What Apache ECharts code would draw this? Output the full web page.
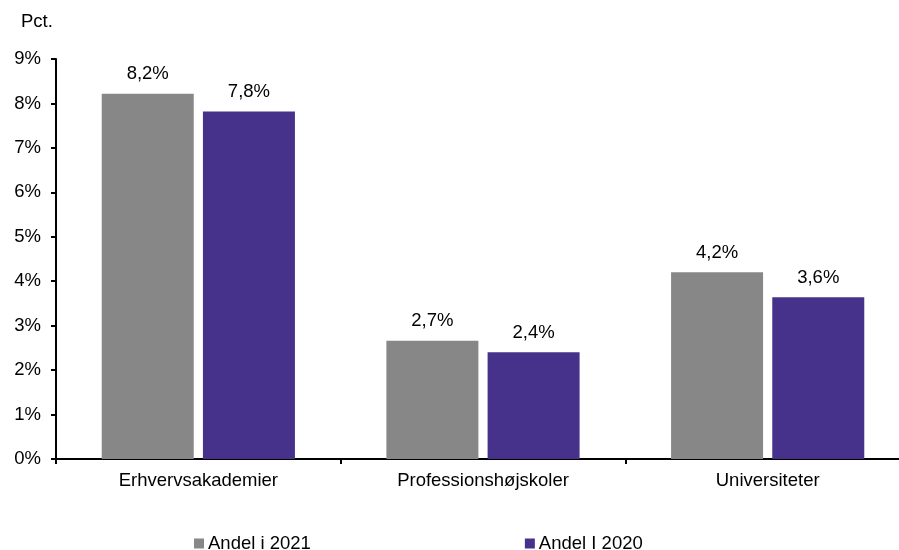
<!DOCTYPE html>
<html><head><meta charset="utf-8">
<script src="https://cdn.jsdelivr.net/npm/echarts@6/dist/echarts.min.js"></script>
<style>html,body{margin:0;padding:0;background:#fff}#c{width:899px;height:550px}</style>
</head><body><div id="c"></div>
<script>
const categories = ['Erhvervsakademier', 'Professionshøjskoler', 'Universiteter'];
const andel2021 = [8.22, 2.66, 4.2];
const andel2020 = [7.82, 2.4, 3.64];
const yTicks = [0, 1, 2, 3, 4, 5, 6, 7, 8, 9];
const seriesNames = ['Andel i 2021', 'Andel I 2020'];
const font = 'Liberation Sans, Arial, sans-serif';
const fs = 18.5;
const chart = echarts.init(document.getElementById('c'));
const fmt = v => v.toFixed(1).replace('.', ',') + '%';
chart.setOption({
  animation: false,
  textStyle: { fontFamily: font, color: '#000' },
  graphic: [{ type: 'text', left: 21, top: 12, style: { text: 'Pct.', font: fs + 'px ' + font, fill: '#000' } }],
  legend: {
    left: 194, top: 534, padding: 0, itemWidth: 10, itemHeight: 10, itemGap: 214, icon: 'rect',
    textStyle: { fontSize: fs, color: '#000', fontFamily: font, padding: [0, 0, 0, -1] },
    data: seriesNames
  },
  grid: { left: 56, top: 59, width: 854, height: 400, containLabel: false, outerBoundsMode: 'none' },
  xAxis: {
    type: 'category', data: categories,
    axisLine: { lineStyle: { color: '#000', width: 2 } },
    axisTick: { show: true, length: 5, lineStyle: { color: '#000', width: 2 } },
    axisLabel: { fontSize: fs, color: '#000', margin: 12, fontFamily: font }
  },
  yAxis: {
    type: 'value', min: yTicks[0], max: yTicks[yTicks.length - 1], interval: 1,
    axisLine: { show: true, lineStyle: { color: '#000', width: 2 } },
    axisTick: { show: true, length: 5, lineStyle: { color: '#000', width: 2 } },
    splitLine: { show: false },
    axisLabel: { fontSize: fs, color: '#000', margin: 15, fontFamily: font, formatter: v => v + '%' }
  },
  series: [
    { name: seriesNames[0], type: 'bar', data: andel2021, barWidth: 92, barGap: '10%',
      itemStyle: { color: '#878787' },
      label: { show: true, position: 'top', distance: 10, fontSize: fs, color: '#000', fontFamily: font, formatter: p => fmt(p.value) } },
    { name: seriesNames[1], type: 'bar', data: andel2020, barWidth: 92,
      itemStyle: { color: '#46328a' },
      label: { show: true, position: 'top', distance: 10, fontSize: fs, color: '#000', fontFamily: font, formatter: p => fmt(p.value) } }
  ]
});
</script></body></html>
